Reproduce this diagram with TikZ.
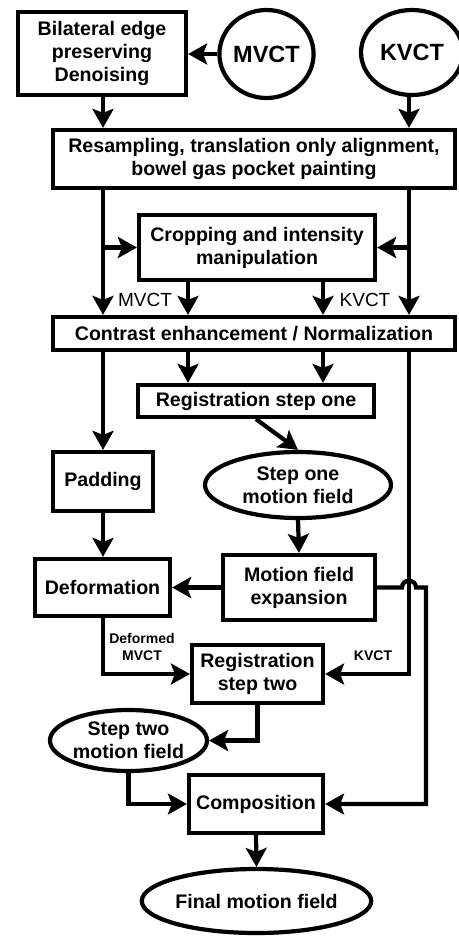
\documentclass[tikz,border=0pt]{standalone}
\usepackage{fontspec}
\setmainfont{Liberation Sans}
\usetikzlibrary{arrows.meta,shapes.geometric,calc}
\begin{document}
\begin{tikzpicture}[x=1pt,y=-1pt, line width=4.2pt,
  box/.style={draw, rectangle, font=\bfseries\fontsize{19.6}{23}\selectfont, align=center, inner sep=0pt},
  oval/.style={draw, ellipse, font=\bfseries\fontsize{19.6}{23}\selectfont, align=center, inner sep=0pt},
  big/.style={font=\bfseries\fontsize{23.5}{26}\selectfont},
  arr/.style={-{Stealth[length=19pt,width=21pt,inset=4pt]}},
  lbl/.style={font=\bfseries\fontsize{14}{17}\selectfont, align=center},
  lblr/.style={font=\fontsize{19}{22}\selectfont}]
\useasboundingbox (0,0) rectangle (458,937);
% nodes
\node[box, minimum width=168pt, minimum height=83pt] (bil) at (102,53.5) {Bilateral edge\\preserving\\Denoising};
\node[oval, big, minimum width=93pt, minimum height=88pt] (mvct) at (266.5,54) {MVCT};
\node[oval, big, minimum width=102pt, minimum height=85pt] (kvct) at (412,52.5) {KVCT};
\node[box, minimum width=402pt, minimum height=58pt] (res) at (254,159) {Resampling, translation only alignment,\\bowel gas pocket painting};
\node[box, minimum width=236pt, minimum height=65pt] (crop) at (257,247.5) {Cropping and intensity\\manipulation};
\node[box, minimum width=402pt, minimum height=33pt] (con) at (254,333.5) {Contrast enhancement / Normalization};
\node[box, minimum width=236pt, minimum height=32pt] (reg1) at (256,401) {Registration step one};
\node[oval, minimum width=186pt, minimum height=66pt] (s1) at (298,485) {Step one\\motion field};
\node[box, minimum width=100pt, minimum height=59pt] (pad) at (103,481.5) {Padding};
\node[box, minimum width=135pt, minimum height=57pt] (def) at (102.5,587.5) {Deformation};
\node[box, minimum width=152pt, minimum height=65pt] (mfe) at (299,587.5) {Motion field\\expansion};
\node[box, minimum width=131pt, minimum height=58pt] (reg2) at (257.5,674) {Registration\\step two};
\node[oval, minimum width=149pt, minimum height=61pt] (s2) at (128.5,740.5) {Step two\\motion field};
\node[box, minimum width=134pt, minimum height=58pt] (comp) at (256,804) {Composition};
\node[oval, minimum width=203pt, minimum height=64pt] (fin) at (256.5,901) {Final motion field};
% labels
\node[lblr] (lm) at (145,300) {MVCT};
\node[lblr] (lk) at (365,300) {KVCT};
\node[lbl] (ldm) at (142,647) {Deformed\\MVCT};
\node[lbl] (lk2) at (373,656) {KVCT};
% guide coordinates
\coordinate (lx) at (103,0);
\coordinate (rx) at (409,0);
\coordinate (mx) at (188,0);
\coordinate (kx) at (323,0);
\coordinate (hopA) at (402,587.5);
\coordinate (hopB) at (416,587.5);
\coordinate (hopC) at (426,587.5);
\coordinate (hopD) at (426,804);
% connectors
\draw[arr] (mvct.west) -- (mvct.west -| bil.east);
\draw[arr] (bil.south -| lx) -- (res.north -| lx);
\draw[arr] (kvct.south -| rx) -- (res.north -| rx);
\draw[arr] (res.south -| lx) -- (con.north -| lx);
\draw[arr] (res.south -| rx) -- (con.north -| rx);
\draw[arr] (crop.west -| lx) -- (crop.west);
\draw[arr] (crop.east -| rx) -- (crop.east);
\draw[arr] (crop.south -| mx) -- (con.north -| mx);
\draw[arr] (crop.south -| kx) -- (con.north -| kx);
\draw[arr] (con.south -| lx) -- (pad.north -| lx);
\draw[arr] (con.south -| mx) -- (reg1.north -| mx);
\draw[arr] (con.south -| kx) -- (reg1.north -| kx);
\draw[arr] (con.south -| rx) |- (reg2.east);
\draw[arr] (reg1.south) -- (s1.north);
\draw[arr] (pad.south -| lx) -- (def.north -| lx);
\draw[arr] (s1.south) -- (mfe.north);
\draw[arr] (mfe.west) -- (def.east);
\draw[arr] (mfe.east) -- (hopA) .. controls ($(hopA)+(0,-9)$) and ($(hopB)+(0,-9)$) .. (hopB) -- (hopC) -- (hopD) -- (comp.east);
\draw[arr] (def.south -| lx) |- (reg2.west);
\draw[arr] (reg2.south) |- (s2.east);
\draw[arr] (s2.south) |- (comp.west);
\draw[arr] (comp.south) -- (fin.north);
\end{tikzpicture}
\end{document}
